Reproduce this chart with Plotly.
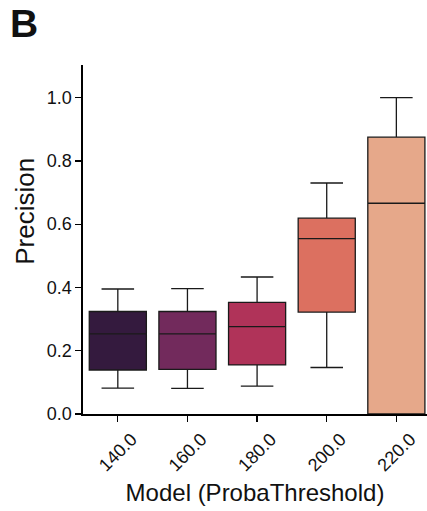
import plotly.graph_objects as go

categories = ["140.0", "160.0", "180.0", "200.0", "220.0"]
lower_whisker = [0.082, 0.081, 0.088, 0.147, 0.0]
q1_vals = [0.139, 0.141, 0.155, 0.322, 0.0]
median_vals = [0.253, 0.253, 0.276, 0.554, 0.666]
q3_vals = [0.324, 0.324, 0.353, 0.619, 0.875]
upper_whisker = [0.395, 0.396, 0.433, 0.730, 1.0]
colors = ["#341a3e", "#722a5c", "#b03359", "#dc7060", "#e6a88a"]

fig = go.Figure()
for i, c in enumerate(categories):
    fig.add_trace(go.Box(
        x=[c],
        q1=[q1_vals[i]], median=[median_vals[i]], q3=[q3_vals[i]],
        lowerfence=[lower_whisker[i]], upperfence=[upper_whisker[i]],
        fillcolor=colors[i],
        line=dict(color="#1a1a1a", width=1.3),
        width=0.82,
        whiskerwidth=0.57,
        boxpoints=False,
        showlegend=False,
        hoverinfo="skip",
    ))

font_family = "Liberation Sans, Arial, sans-serif"
fig.update_layout(
    width=427, height=511,
    margin=dict(l=83, r=0, t=65, b=97),
    plot_bgcolor="white", paper_bgcolor="white",
    boxmode="overlay",
    font=dict(family=font_family, color="#111"),
    xaxis=dict(
        type="category",
        categoryorder="array", categoryarray=categories,
        range=[-0.5, 4.44],
        automargin=False,
        showline=True, linecolor="black", linewidth=1.6,
        ticks="outside", ticklen=6, tickwidth=1.3, tickcolor="black",
        tickangle=-45,
        ticklabelshift=14,
        tickfont=dict(size=18, family=font_family, color="#111"),
        showgrid=False, zeroline=False,
        title=dict(text="Model (ProbaThreshold)", font=dict(size=24, family=font_family, color="#111"), standoff=10),
    ),
    yaxis=dict(
        range=[0, 1.103],
        automargin=False,
        tickvals=[0.0, 0.2, 0.4, 0.6, 0.8, 1.0],
        ticktext=["0.0", "0.2", "0.4", "0.6", "0.8", "1.0"],
        showline=True, linecolor="black", linewidth=1.6,
        ticks="outside", ticklen=6, tickwidth=1.3, tickcolor="black",
        tickfont=dict(size=18, family=font_family, color="#111"),
        showgrid=False, zeroline=False,
    ),
    annotations=[
        dict(
            text="<b>B</b>", xref="paper", yref="paper",
            x=-0.214, y=1.183, xanchor="left", yanchor="top",
            borderpad=0,
            showarrow=False, font=dict(size=39, family=font_family, color="#111"),
        ),
        dict(
            text="Precision", xref="paper", yref="paper",
            x=-0.169, y=0.582, xanchor="center", yanchor="middle",
            textangle=-90,
            showarrow=False, font=dict(size=26, family=font_family, color="#111"),
        ),
    ],
)
fig.write_html(
    "out.html",
    config={"displayModeBar": False, "staticPlot": True},
    post_script="document.body.style.margin='0';document.body.style.overflow='hidden';",
)
